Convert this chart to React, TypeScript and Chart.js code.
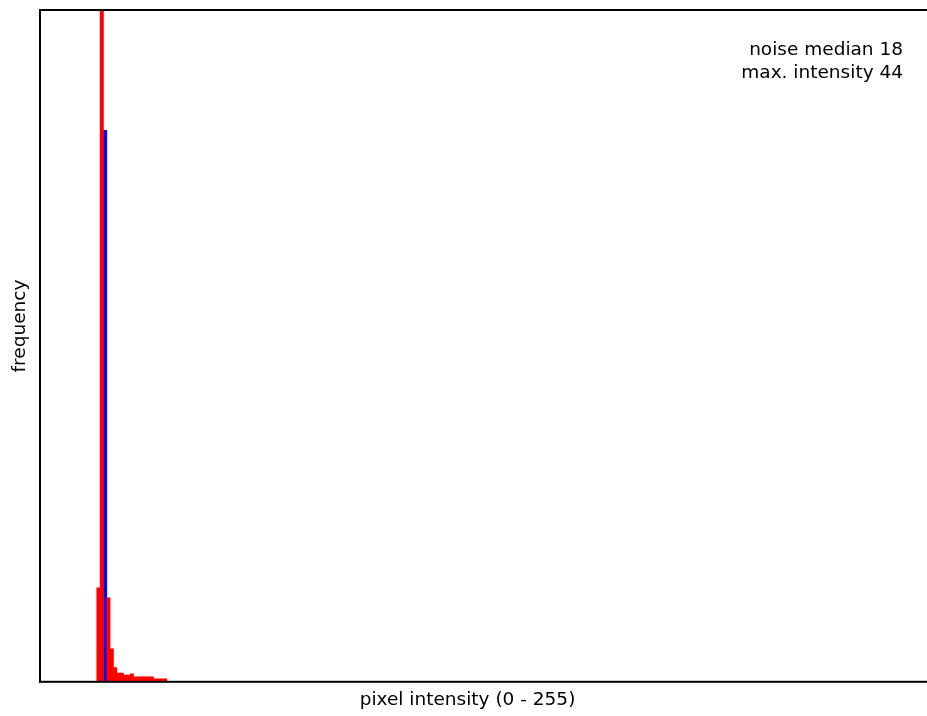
import React, { useEffect, useRef } from "react";
import { Chart, registerables } from "chart.js";

Chart.register(...registerables);

// Histogram bins 0..255 (pixel intensity)
const binCount = 256;
const binLabels: string[] = Array.from({ length: binCount }, (_, i) => String(i));

// Red histogram: bins 0..37, all later bins are 0. Bin 18 runs off the scale.
const redFrequency: number[] = [
  0, 0, 0, 0, 0, 0, 0, 0, 0, 0,
  0, 0, 0, 0, 0, 0, 0, 14.0, 200, 0,
  12.5, 4.9, 2.1, 1.3, 1.3, 1.0, 1.0, 1.2, 0.75, 0.75,
  0.75, 0.75, 0.75, 0.75, 0.45, 0.45, 0.45, 0.45,
];

// Blue marker bar at bin 19
const blueFrequency: number[] = [
  0, 0, 0, 0, 0, 0, 0, 0, 0, 0,
  0, 0, 0, 0, 0, 0, 0, 0, 0, 82.1,
];

const yMax = 100;
const xTitle = "pixel intensity (0 - 255)";
const yTitle = "frequency";
const annotationLines: string[] = ["noise median 18", "max. intensity 44"];

const FONT_FAMILY = '"DejaVu Sans", sans-serif';

const pad = (arr: number[]) =>
  binLabels.map((_, i) => (arr[i] !== undefined ? arr[i] : 0));

const framePlugin = {
  id: "frameAndNotes",
  afterDraw(chart: any) {
    const { ctx, chartArea, width } = chart;
    const { left, top, bottom } = chartArea;
    ctx.save();
    ctx.fillStyle = "#000";
    ctx.fillRect(left - 1, top - 1, width - left + 1, 2);
    ctx.fillRect(left - 1, bottom - 1, width - left + 1, 2);
    ctx.fillRect(left - 1, top - 1, 2, bottom - top + 2);
    ctx.font = `18.5px ${FONT_FAMILY}`;
    ctx.textAlign = "right";
    ctx.textBaseline = "alphabetic";
    annotationLines.forEach((t, i) => ctx.fillText(t, 903, 55 + i * 23));
    // y-axis title (rotated), placed as in the reference
    ctx.translate(25, 326);
    ctx.rotate(-Math.PI / 2);
    ctx.textAlign = "center";
    ctx.fillText(yTitle, 0, 0);
    ctx.restore();
  },
};

export default function App() {
  const canvasRef = useRef<HTMLCanvasElement | null>(null);

  useEffect(() => {
    document.body.style.margin = "0";
    document.body.style.background = "#ffffff";
    const canvas = canvasRef.current;
    if (!canvas) return;
    const chart = new Chart(canvas, {
      type: "bar",
      data: {
        labels: binLabels,
        datasets: [
          {
            label: "histogram",
            data: pad(redFrequency),
            backgroundColor: "#ff0000",
            borderWidth: 0,
            barPercentage: 1,
            categoryPercentage: 1,
            grouped: false,
            clip: 0,
          } as any,
          {
            label: "marker",
            data: pad(blueFrequency),
            backgroundColor: "#0000ff",
            borderWidth: 0,
            barPercentage: 1,
            categoryPercentage: 1,
            grouped: false,
            clip: 0,
          } as any,
        ],
      },
      options: {
        responsive: false,
        maintainAspectRatio: false,
        animation: false,
        layout: { padding: { top: 10, right: 32, bottom: 0, left: 0 } },
        plugins: {
          legend: { display: false },
          tooltip: { enabled: false },
        },
        scales: {
          x: {
            type: "category",
            grid: { display: false, drawTicks: false },
            border: { display: false },
            ticks: { display: false },
            title: {
              display: true,
              text: xTitle,
              color: "#000",
              font: { family: FONT_FAMILY, size: 18.5, lineHeight: 1.2 },
              padding: { top: 7, bottom: 5 },
            },
          },
          y: {
            type: "linear",
            min: 0,
            max: yMax,
            grid: { display: false, drawTicks: false },
            border: { display: false },
            ticks: { display: false },
            afterFit: (scale: any) => {
              scale.width = 40;
            },
          },
        },
      },
      plugins: [framePlugin],
    });
    return () => chart.destroy();
  }, []);

  return (
    <div style={{ width: 927, height: 716, background: "#fff" }}>
      <canvas ref={canvasRef} width={927} height={716} style={{ display: "block" }} />
    </div>
  );
}
